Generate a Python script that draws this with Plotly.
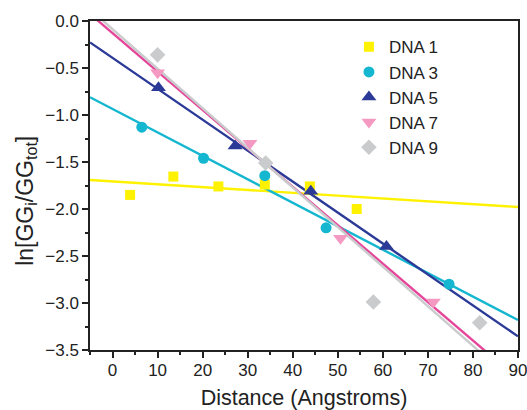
import numpy as np
import plotly.graph_objects as go

# Data
dna1_x = [3.9, 13.5, 23.5, 33.8, 43.8, 54.2]
dna1_y = [-1.85, -1.655, -1.76, -1.74, -1.76, -2.0]
dna3_x = [6.5, 20.2, 33.8, 47.4, 74.7]
dna3_y = [-1.13, -1.46, -1.645, -2.20, -2.80]
dna5_x = [10.2, 27.2, 44.0, 60.8]
dna5_y = [-0.71, -1.33, -1.81, -2.40]
dna7_x = [10.0, 30.5, 50.6, 71.2]
dna7_y = [-0.55, -1.30, -2.31, -2.99]
dna9_x = [10.0, 34.0, 57.9, 81.5]
dna9_y = [-0.36, -1.51, -2.99, -3.21]

names = ["DNA 1", "DNA 3", "DNA 5", "DNA 7", "DNA 9"]
xs = [dna1_x, dna3_x, dna5_x, dna7_x, dna9_x]
ys = [dna1_y, dna3_y, dna5_y, dna7_y, dna9_y]
marker_colors = ["#FFF200", "#14B6D0", "#2B3A97", "#F49AC2", "#C9CBCD"]
line_colors = ["#FFF200", "#14B6D0", "#2B3A97", "#E5469A", "#C9CBCD"]
symbols = ["square", "circle", "triangle-up", "triangle-down", "diamond"]
sizes = [10, 11, 13, 13, 12]

x_range = [-5, 90]
y_range = [-3.5, 0.0]
y_title = "ln[GG<sub>i</sub>/GG<sub>tot</sub>]"
x_title = "Distance (Angstroms)"

fig = go.Figure()
fit_x = np.array(x_range, dtype=float)
for i in range(5):
    k, b = np.polyfit(xs[i], ys[i], 1)
    fig.add_trace(go.Scatter(x=fit_x, y=k * fit_x + b, mode="lines",
                             line=dict(color=line_colors[i], width=2.4),
                             showlegend=False, hoverinfo="skip"))
for i in range(5):
    fig.add_trace(go.Scatter(x=xs[i], y=ys[i], mode="markers", name=names[i],
                             marker=dict(symbol=symbols[i], size=sizes[i],
                                         color=marker_colors[i], line=dict(width=0))))

font = "Liberation Sans, Arial, Helvetica, sans-serif"
fig.update_layout(
    width=527, height=410,
    margin=dict(l=90, r=9, t=21, b=60),
    paper_bgcolor="white", plot_bgcolor="white",
    font=dict(family=font, size=17, color="#222"),
    legend=dict(x=0.605, y=0.975, xanchor="left", yanchor="top",
                bgcolor="rgba(0,0,0,0)", borderwidth=0,
                font=dict(size=17), tracegroupgap=0, itemsizing="trace"),
    xaxis=dict(range=x_range, tick0=0, dtick=10, ticks="outside", ticklen=6,
               tickwidth=1.5, tickcolor="#222", showline=True, linecolor="#222",
               linewidth=1.5, mirror=True, showgrid=False, zeroline=False,
               automargin=False, ticklabeloverflow="allow", ticklabelstandoff=-2,
               minor=dict(dtick=5, tick0=0, ticks="outside", ticklen=3, tickwidth=1.5, tickcolor="#222"),
               title=dict(text=x_title, font=dict(size=21.5), standoff=12),
               tickfont=dict(size=17)),
    yaxis=dict(range=y_range, tick0=0, dtick=0.5, tickformat=".1f", ticks="outside",
               ticklen=6, tickwidth=1.5, tickcolor="#222", showline=True,
               linecolor="#222", linewidth=1.5, mirror=True, showgrid=False,
               zeroline=False, automargin=False, ticklabeloverflow="allow",
               minor=dict(dtick=0.25, tick0=0, ticks="outside", ticklen=3, tickwidth=1.5, tickcolor="#222"),
               tickfont=dict(size=17)),
    annotations=[dict(text=y_title, textangle=-90, xref="paper", yref="paper",
                      x=-0.149, y=0.454, xanchor="center", yanchor="middle",
                      showarrow=False, font=dict(size=23))],
)

fig.write_html("out.html", config={"displayModeBar": False},
               post_script="document.body.style.margin='0px';")
